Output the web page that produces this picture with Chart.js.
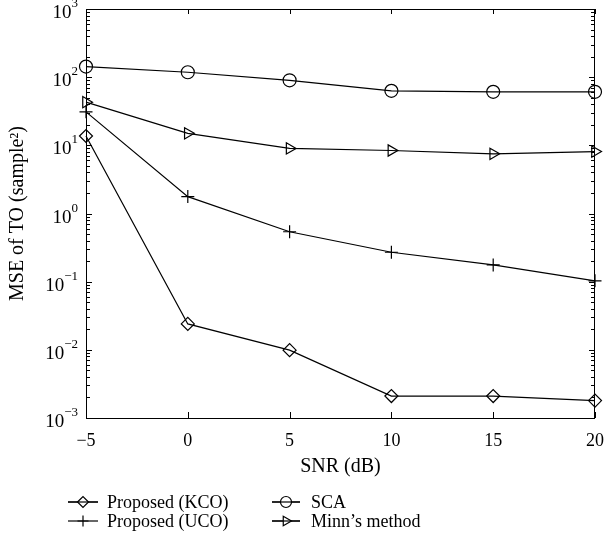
<!DOCTYPE html>
<html>
<head>
<meta charset="utf-8">
<script src="https://cdn.jsdelivr.net/npm/chart.js@4"></script>
<style>
  html, body { margin: 0; padding: 0; background: #fff; }
  #wrap { width: 616px; height: 556px; }
</style>
</head>
<body>
<div id="wrap"><canvas id="mseChart" width="616" height="556"></canvas></div>
<script>
// SNR values (dB) and MSE of TO per method
const snr = [-5, 0, 5, 10, 15, 20];
const kcoMse = [13.7, 0.024, 0.0099, 0.0021, 0.0021, 0.0018];
const ucoMse = [31, 1.77, 0.54, 0.27, 0.176, 0.103];
const scaMse = [143, 118, 90, 63, 61, 61];
const minnMse = [43, 15, 9.0, 8.4, 7.5, 8.1];

const seriesNames = ['Proposed (KCO)', 'Proposed (UCO)', 'SCA', 'Minn\u2019s method'];
const xTicks = [-5, 0, 5, 10, 15, 20];
const yExponents = [-3, -2, -1, 0, 1, 2, 3];

const FONT = '"Liberation Serif", "Times New Roman", serif';

function toPoints(vals) {
    return snr.map((x, i) => ({ x: x, y: vals[i] }));
}

function makeSet(label, vals, style, rotation) {
    return {
        label: label,
        data: toPoints(vals),
        borderColor: '#000',
        backgroundColor: 'rgba(0,0,0,0)',
        borderWidth: 1.2,
        pointStyle: style,
        pointRotation: rotation || 0,
        pointRadius: 6.5,
        pointBorderWidth: 1.2,
        pointBorderColor: '#000',
        pointBackgroundColor: 'rgba(0,0,0,0)',
        clip: false,
        tension: 0
    };
}

// box, inward ticks, y labels with superscripts, legend
const decorPlugin = {
    id: 'decor',
    afterDraw(chart) {
        const ctx = chart.ctx;
        const a = chart.chartArea;
        const xs = chart.scales.x;
        const ys = chart.scales.y;
        ctx.save();
        ctx.strokeStyle = '#000';
        ctx.lineWidth = 1;
        ctx.strokeRect(a.left + 0.5, a.top + 0.5, a.right - a.left - 1, a.bottom - a.top);

        ctx.beginPath();
        xTicks.forEach(v => {
            const px = Math.round(xs.getPixelForValue(v)) + 0.5;
            ctx.moveTo(px, a.bottom); ctx.lineTo(px, a.bottom - 6);
            ctx.moveTo(px, a.top); ctx.lineTo(px, a.top + 5);
        });
        for (let e = -3; e < 3; e++) {
            for (let m = 1; m <= 9; m++) {
                const py = Math.round(ys.getPixelForValue(m * Math.pow(10, e))) + 0.5;
                const len = m === 1 ? 6 : 4;
                ctx.moveTo(a.left, py); ctx.lineTo(a.left + len, py);
                ctx.moveTo(a.right, py); ctx.lineTo(a.right - len, py);
            }
        }
        ctx.stroke();

        // y tick labels: 10 with superscript exponent
        ctx.fillStyle = '#000';
        ctx.textBaseline = 'alphabetic';
        yExponents.forEach(e => {
            const py = ys.getPixelForValue(Math.pow(10, e));
            const sup = e < 0 ? '\u2212' + (-e) : String(e);
            ctx.font = '13px ' + FONT;
            const supW = ctx.measureText(sup).width;
            const right = 78;
            ctx.textAlign = 'left';
            ctx.fillText(sup, right - supW, py - 2);
            ctx.font = '19px ' + FONT;
            ctx.textAlign = 'right';
            ctx.fillText('10', right - supW, py + 9);
        });

        // legend
        const cols = [{ x0: 68, x1: 98, tx: 107 }, { x0: 272, x1: 300, tx: 311 }];
        const rows = [502, 521];
        ctx.font = '18px ' + FONT;
        ctx.textAlign = 'left';
        ctx.textBaseline = 'middle';
        chart.data.datasets.forEach((ds, i) => {
            const c = cols[Math.floor(i / 2)];
            const y = rows[i % 2];
            ctx.strokeStyle = '#000';
            ctx.lineWidth = 1.2;
            ctx.beginPath();
            ctx.moveTo(c.x0, y); ctx.lineTo(c.x1, y);
            ctx.stroke();
            ctx.fillStyle = '#fff';
            Chart.helpers.drawPoint(ctx, {
                pointStyle: ds.pointStyle,
                rotation: ds.pointRotation,
                radius: 5.5,
                borderWidth: 1.2
            }, (c.x0 + c.x1) / 2, y);
            if (ds.pointStyle !== 'cross') {
                // redraw the line through open markers like the reference
                ctx.beginPath();
                ctx.moveTo(c.x0, y); ctx.lineTo(c.x1, y);
                ctx.stroke();
            }
            ctx.fillStyle = '#000';
            ctx.fillText(ds.label, c.tx, y + 1);
        });
        ctx.restore();
    }
};

new Chart(document.getElementById('mseChart'), {
    type: 'line',
    data: {
        datasets: [
            makeSet(seriesNames[0], kcoMse, 'rectRot'),
            makeSet(seriesNames[1], ucoMse, 'cross'),
            makeSet(seriesNames[2], scaMse, 'circle'),
            makeSet(seriesNames[3], minnMse, 'triangle', 90)
        ]
    },
    options: {
        responsive: false,
        animation: false,
        layout: { padding: { top: 9, right: 12, bottom: 70, left: 0 } },
        scales: {
            x: {
                type: 'linear',
                min: -5,
                max: 20,
                afterFit: s => { s.height = 68; },
                afterBuildTicks: s => { s.ticks = xTicks.map(v => ({ value: v })); },
                grid: { display: false, drawTicks: false },
                border: { display: false },
                ticks: {
                    padding: 12,
                    color: '#000',
                    font: { family: FONT, size: 18 },
                    callback: v => (v < 0 ? '\u2212' + (-v) : String(v))
                },
                title: {
                    display: true,
                    text: 'SNR (dB)',
                    color: '#000',
                    font: { family: FONT, size: 20 },
                    padding: { top: 0, bottom: 7 }
                }
            },
            y: {
                type: 'logarithmic',
                min: 0.001,
                max: 1000,
                afterFit: s => { s.width = 86; },
                grid: { display: false, drawTicks: false },
                border: { display: false },
                ticks: { display: false },
                title: {
                    display: true,
                    text: 'MSE of TO (sample\u00b2)',
                    color: '#000',
                    font: { family: FONT, size: 20 },
                    padding: { top: 6, bottom: 0 }
                }
            }
        },
        plugins: {
            legend: { display: false },
            tooltip: { enabled: false }
        }
    },
    plugins: [decorPlugin]
});
</script>
</body>
</html>
